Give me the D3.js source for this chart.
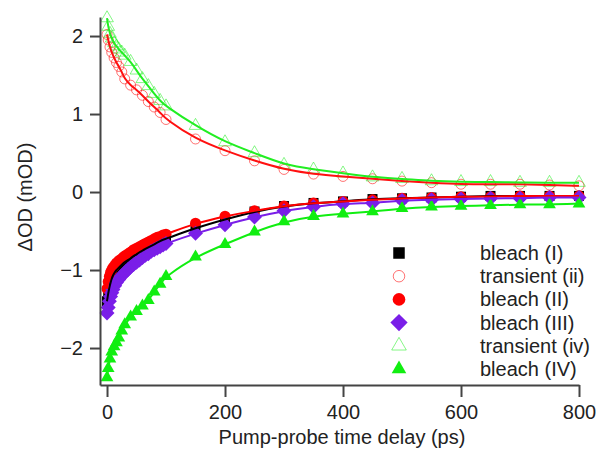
<!DOCTYPE html>
<html>
<head>
<meta charset="utf-8">
<script src="https://cdn.jsdelivr.net/npm/d3@7"></script>
<style>
    body { margin: 0; background: #fff; }
    svg text { font-family: "Liberation Sans", Arial, sans-serif; fill: #222; }
</style>
</head>
<body>
<div id="grafico"></div>
<script>
// time grids (ps)
var tSparse = [0, 2, 5, 8, 12, 16, 20, 25, 30, 40, 50, 60, 70, 80, 90, 100,
    150, 200, 250, 300, 350, 400, 450, 500, 550, 600, 650, 700, 750, 800];
var tDense = [0, 2, 4, 6, 8, 10, 13, 16, 20, 24, 28, 32, 36, 40, 45, 50, 55, 60, 65, 70, 75, 80, 85, 90, 95, 100,
    150, 200, 250, 300, 350, 400, 450, 500, 550, 600, 650, 700, 750, 800];

// delta OD (mOD)
var bleachI = [-1.40, -1.30, -1.22, -1.16, -1.11, -1.07, -1.03, -1.00, -0.97, -0.94, -0.91, -0.89, -0.87, -0.85, -0.82, -0.80, -0.77, -0.75, -0.73, -0.71, -0.69, -0.67, -0.65, -0.63, -0.61, -0.60,
    -0.46, -0.35, -0.25, -0.18, -0.14, -0.12, -0.09, -0.08, -0.07, -0.06, -0.05, -0.05, -0.05, -0.05];
var bleachII = [-1.24, -1.15, -1.08, -1.03, -1.00, -0.97, -0.94, -0.91, -0.88, -0.86, -0.83, -0.81, -0.79, -0.77, -0.74, -0.72, -0.70, -0.68, -0.66, -0.64, -0.62, -0.60, -0.58, -0.57, -0.55, -0.54,
    -0.40, -0.31, -0.24, -0.18, -0.14, -0.12, -0.10, -0.08, -0.07, -0.06, -0.06, -0.05, -0.05, -0.05];
var bleachIII = [-1.55, -1.48, -1.40, -1.34, -1.29, -1.25, -1.20, -1.16, -1.12, -1.08, -1.05, -1.02, -0.99, -0.96, -0.93, -0.90, -0.87, -0.84, -0.81, -0.79, -0.76, -0.74, -0.72, -0.70, -0.68, -0.66,
    -0.53, -0.42, -0.32, -0.24, -0.19, -0.15, -0.14, -0.11, -0.10, -0.09, -0.08, -0.08, -0.07, -0.07];
var bleachIV = [-2.38, -2.26, -2.14, -2.05, -1.98, -1.93, -1.87, -1.78, -1.70, -1.60, -1.53, -1.46, -1.39, -1.28, -1.18, -1.08,
    -0.83, -0.67, -0.51, -0.38, -0.31, -0.28, -0.25, -0.21, -0.19, -0.18, -0.17, -0.16, -0.16, -0.15];
var transientII = [2.02, 1.95, 1.86, 1.79, 1.72, 1.66, 1.61, 1.54, 1.45, 1.37, 1.31, 1.24, 1.16, 1.09, 1.02, 0.93,
    0.68, 0.53, 0.40, 0.29, 0.23, 0.20, 0.17, 0.14, 0.12, 0.10, 0.10, 0.10, 0.09, 0.08];
var transientIV = [2.23, 2.12, 2.03, 1.97, 1.91, 1.87, 1.83, 1.79, 1.75, 1.67, 1.56, 1.45, 1.36, 1.26, 1.17, 1.10,
    0.85, 0.64, 0.50, 0.35, 0.29, 0.24, 0.19, 0.17, 0.14, 0.13, 0.13, 0.12, 0.12, 0.12];

var xTicks = [0, 200, 400, 600, 800];
var yTicks = [-2, -1, 0, 1, 2];

var series = [
    { nome: 'bleach (I)', t: tDense, v: bleachI, cor: '#000000', simbolo: 'square', aberto: false },
    { nome: 'transient (ii)', t: tSparse, v: transientII, cor: '#ff0000', simbolo: 'circle', aberto: true },
    { nome: 'bleach (II)', t: tDense, v: bleachII, cor: '#ff0000', simbolo: 'circle', aberto: false },
    { nome: 'bleach (III)', t: tDense, v: bleachIII, cor: '#7a1ee8', simbolo: 'diamond', aberto: false },
    { nome: 'transient (iv)', t: tSparse, v: transientIV, cor: '#22ee22', simbolo: 'triangle', aberto: true },
    { nome: 'bleach (IV)', t: tSparse, v: bleachIV, cor: '#11ee11', simbolo: 'triangle', aberto: false }
];

var width = 599, height = 453;

var svg = d3.select('#grafico').append('svg')
    .attr('width', width).attr('height', height);

var x = d3.scaleLinear().domain([-11.9, 800]).range([100, 579]);
var y = d3.scaleLinear().domain([-2.474, 2.244]).range([385, 17]);

function desenharSimbolo(g, s, big) {
    var k = big ? 1.15 : 1;
    var shape;
    if (s.simbolo == 'square') {
        shape = g.append('rect').attr('x', -5 * k).attr('y', -5 * k).attr('width', 10 * k).attr('height', 10 * k);
    } else if (s.simbolo == 'circle') {
        shape = g.append('circle').attr('r', (s.aberto ? 5 : 5.5) * k);
    } else if (s.simbolo == 'diamond') {
        var d = 7.5 * k;
        shape = g.append('path').attr('d', 'M0,' + (-d) + 'L' + d + ',0L0,' + d + 'L' + (-d) + ',0Z');
    } else {
        shape = g.append('path').attr('d', d3.symbol().type(d3.symbolTriangle).size(70 * k * k)());
    }
    if (s.aberto) {
        shape.attr('fill', 'none').attr('stroke', s.cor).attr('stroke-width', 1).attr('stroke-opacity', 0.55);
    } else {
        shape.attr('fill', s.cor);
    }
}

/* marcadores */
series.forEach(function(s) {
    var pts = s.t.map(function(t, i) { return { t: t, v: s.v[i] }; });
    var g = svg.append('g');
    pts.forEach(function(p) {
        var m = g.append('g').attr('transform', 'translate(' + x(p.t) + ',' + y(p.v) + ')');
        desenharSimbolo(m, s, false);
    });
});

/* curvas de ajuste */
var linha = d3.line()
    .x(function(d) { return x(d.t); })
    .y(function(d) { return y(d.v); })
    .curve(d3.curveBasis);

series.forEach(function(s) {
    var pts = s.t.map(function(t, i) { return { t: t, v: s.v[i] }; });
    svg.append('path').datum(pts)
        .attr('d', linha)
        .attr('fill', 'none')
        .attr('stroke', s.aberto ? (s.simbolo == 'circle' ? '#ff1010' : '#22ee22') : s.cor)
        .attr('stroke-width', 2);
});

/* eixos */
var xAxis = svg.append('g').attr('transform', 'translate(0,385)')
    .call(d3.axisBottom(x).tickValues(xTicks).tickSize(12).tickSizeOuter(0).tickPadding(8));
var yAxis = svg.append('g').attr('transform', 'translate(100,0)')
    .call(d3.axisLeft(y).tickValues(yTicks).tickFormat(d3.format('d')).tickSize(10).tickSizeOuter(0).tickPadding(7));

[xAxis, yAxis].forEach(function(a) {
    a.select('.domain').attr('stroke', '#444').attr('stroke-width', 2);
    a.selectAll('.tick line').attr('stroke', '#444').attr('stroke-width', 2);
    a.selectAll('.tick text').style('font-size', '20px').attr('fill', '#222')
        .style('font-family', '"Liberation Sans", Arial, sans-serif');
});

svg.append('text')
    .attr('x', 342).attr('y', 444)
    .attr('text-anchor', 'middle')
    .style('font-size', '20px')
    .text('Pump-probe time delay (ps)');

svg.append('text')
    .attr('transform', 'translate(32,197) rotate(-90)')
    .attr('text-anchor', 'middle')
    .style('font-size', '20px')
    .text('\u0394OD (mOD)');

/* legenda */
var leg = svg.append('g');
leg.append('rect').attr('x', 386).attr('y', 240).attr('width', 213).attr('height', 142).attr('fill', '#fff');
series.forEach(function(s, i) {
    var yy = 253 + i * 23.2;
    var m = leg.append('g').attr('transform', 'translate(399,' + yy + ')');
    desenharSimbolo(m, s, true);
    leg.append('text')
        .attr('x', 480).attr('y', yy + 7)
        .style('font-size', '20px')
        .text(s.nome);
});
</script>
</body>
</html>
